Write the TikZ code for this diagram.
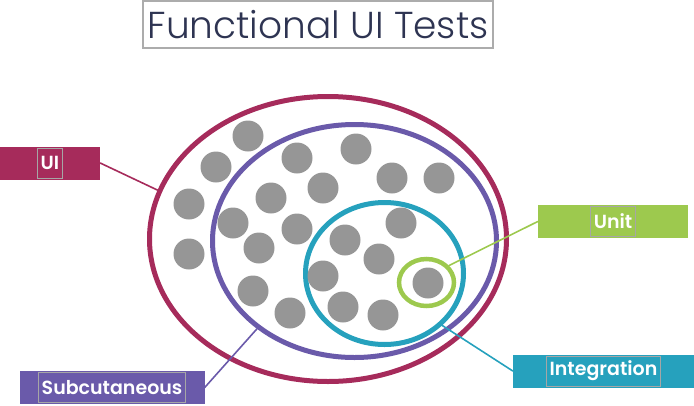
\documentclass[tikz,border=0pt]{standalone}
\usepackage{fontspec}
\newfontfamily\titlefont{Poppins Light}
\newfontfamily\tagfont{Poppins SemiBold}
\usetikzlibrary{shapes.geometric}
\definecolor{uicol}{HTML}{A62B5B}
\definecolor{subcol}{HTML}{6A5AAA}
\definecolor{intcol}{HTML}{26A1BD}
\definecolor{unitcol}{HTML}{9DC94E}
\definecolor{dotcol}{HTML}{969696}
\definecolor{titlecol}{HTML}{2E3452}
\tikzset{
  ring/.style={ellipse,draw,line width=5pt,inner sep=0pt},
  tagbox/.style={minimum height=33pt,inner sep=0pt},
  tagtext/.style={draw=gray!70,line width=.8pt,text=white,font=\tagfont\fontsize{19}{19}\selectfont,minimum height=30pt,inner xsep=3pt,inner ysep=0pt},
  link/.style={line width=1.6pt}
}
\begin{document}
\begin{tikzpicture}[x=1pt,y=-1pt,line cap=round]
\useasboundingbox (0,0) rectangle (694,405);
% title
\node[draw=gray!65,line width=1.3pt,minimum width=350pt,minimum height=47pt,inner sep=0pt,text=titlecol,font=\titlefont\fontsize{37.5}{37.5}\selectfont] (title) at (318,24.5) {Functional UI Tests};
% rings
\node[ring,draw=uicol,minimum width=357pt,minimum height=285pt] (uiring) at (328,239) {};
\node[ring,draw=subcol,minimum width=284pt,minimum height=233pt] (subring) at (354.5,241) {};
\node[ring,draw=intcol,minimum width=158pt,minimum height=142pt] (intring) at (384.5,273.5) {};
% test dots
\foreach\p in {(248,136),(216,167),(297,158),(356,149),(189,204),(271,198),(323,188),(392,178),(439,178),(233,223),(297,229),(401,223),(189,254),(259,248),(345,240),(379,259),(323,276),(253,291),(290,313),(343,307),(383,315),(428,283)}
  \fill[dotcol]\p circle(15.5pt);
\node[ring,draw=unitcol,line width=4.5pt,minimum width=55pt,minimum height=47pt] (unitring) at (426.5,282.5) {};
% labels
\node[tagbox,fill=uicol,minimum width=100pt] (uibox) at (50,163) {};
\node[tagtext] (uitext) at (uibox) {UI};
\node[tagbox,fill=unitcol,minimum width=150pt] (unitbox) at (613,221.5) {};
\node[tagtext] (unittext) at (unitbox) {Unit};
\node[tagbox,fill=intcol,minimum width=181pt] (intbox) at (603.5,371) {};
\node[tagtext] (inttext) at (intbox) {Integration};
\node[tagbox,fill=subcol,minimum width=185pt] (subbox) at (112,387.5) {};
\node[tagtext] (subtext) at (subbox) {Subcutaneous};
% connectors
\draw[link,uicol] (uibox.east) -- (uiring.164);
\draw[link,unitcol] (unitbox.west) -- (unitring.37);
\draw[link,intcol] (intbox.west) -- (intring.-42);
\draw[link,subcol] (subbox.east) -- (subring.222);
\end{tikzpicture}
\end{document}
